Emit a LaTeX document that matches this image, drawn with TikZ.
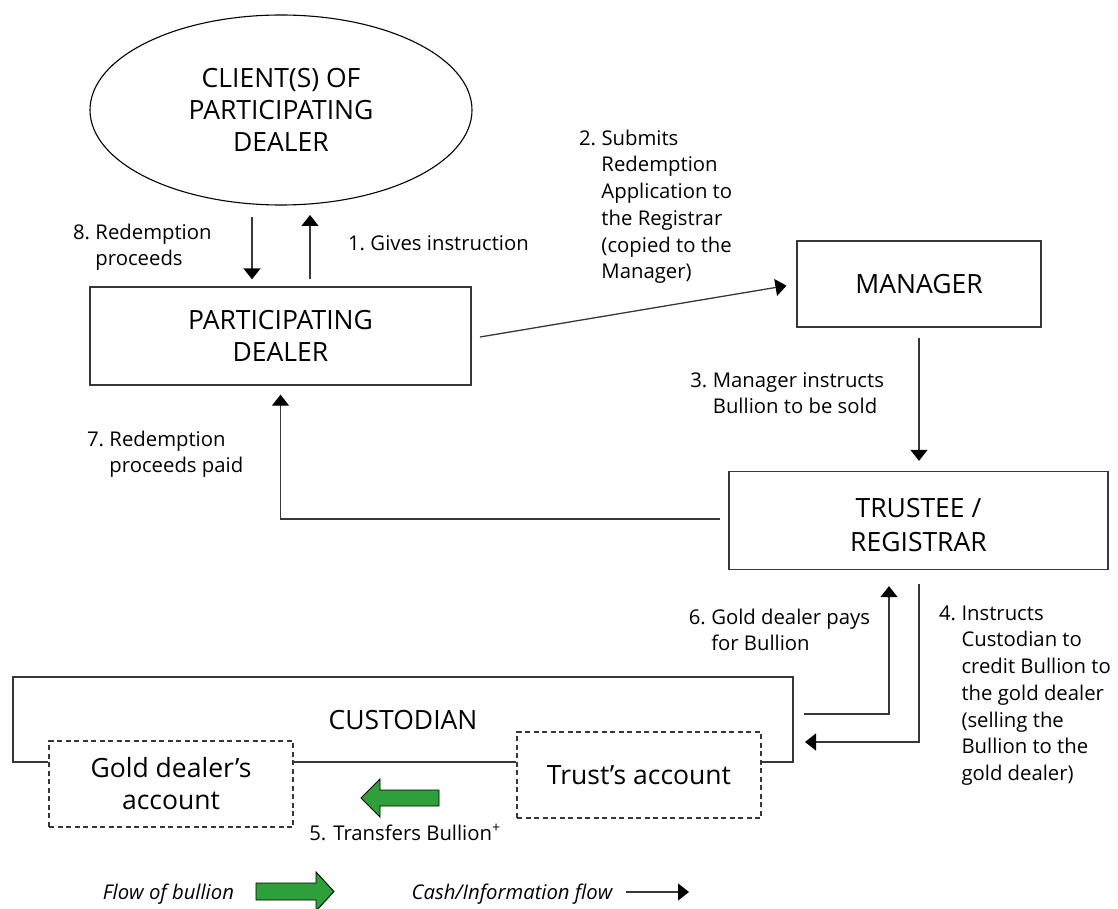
\documentclass[tikz,border=0pt]{standalone}
\usepackage{fontspec}
\setmainfont{Open Sans}
\usetikzlibrary{arrows.meta,shapes.geometric}
\definecolor{bgreen}{RGB}{46,160,58}
\definecolor{linec}{RGB}{55,55,55}
\newcommand{\hl}{\hspace{0.27em}}
\begin{document}
\begin{tikzpicture}[x=1pt,y=-1pt,
  big/.style={font=\fontsize{26.5}{32}\selectfont, align=center, text=black},
  small/.style={font=\fontsize{20.3}{26.7}\selectfont, inner sep=0pt, outer sep=0pt, text=black},
  box/.style={draw=linec, line width=1.3pt, big, inner sep=0pt},
  dbox/.style={draw=linec, line width=1.1pt, dash pattern=on 5pt off 3.5pt, big, inner sep=0pt},
  conn/.style={draw=linec, line width=1.3pt},
  arr/.style={conn, -{Triangle[width=17pt,length=11pt,color=black]}},
  garrow/.style={fill=bgreen, draw=black, line width=0.9pt},
]
\useasboundingbox (0,0) rectangle (1118,909);

% main nodes
\node[ellipse, draw=black, line width=1.1pt, minimum width=382pt, minimum height=190pt, inner sep=0pt, big] (client) at (281,110) {CLIENT(S) OF\\PARTICIPATING\\DEALER};
\node[box, minimum width=381pt, minimum height=98pt] (pd) at (280.5,336) {PARTICIPATING\\DEALER};
\node[box, minimum width=244pt, minimum height=86pt] (mgr) at (919,284) {MANAGER};
\node[box, minimum width=379pt, minimum height=98pt] (tr) at (918.5,520.5) {};
\node[big, font=\fontsize{26.5}{33.5}\selectfont] (trt) at (918.5,525) {TRUSTEE /\\REGISTRAR};
\node[big] (cust) at (403,720) {CUSTODIAN};
\node[dbox, minimum width=244pt, minimum height=86pt] (gd) at (171,784) {Gold dealer’s\\account};
\node[dbox, minimum width=244pt, minimum height=86pt] (ta) at (639,775) {Trust’s account};

% custodian outline
\coordinate (cbl) at (13,762);
\coordinate (ctl) at (13,677);
\coordinate (ctr) at (793,677);
\coordinate (cbr) at (793,762);
\draw[conn] (gd.west |- cbl) -- (cbl) -- (ctl) -- (ctr) -- (cbr) -- (ta.east |- cbr);
\draw[conn] (gd.east |- cbl) -- (ta.west |- cbl);

% connectors
\coordinate (a8) at (252,217);
\draw[arr, shorten >=7pt] (a8) -- (a8 |- pd.north);
\coordinate (a1) at (310,215);
\draw[arr, shorten <=7pt] (a1 |- pd.north) -- (a1);
\coordinate (a2) at (480,337);
\draw[arr, shorten >=10pt] (a2) -- (mgr.west);
\draw[arr, shorten <=10pt, shorten >=10pt] (mgr.south) -- (mgr.south |- tr.north);
\draw[arr, shorten <=8pt, shorten >=9pt] ([yshift=1.5pt]tr.west) -| (pd.south);
\coordinate (c6) at (804,714);
\coordinate (k6) at (889,714);
\draw[arr, shorten >=16pt] (c6) -- (k6) -- (k6 |- tr.south);
\coordinate (c4) at (805,742);
\coordinate (k4) at (919,742);
\draw[arr, shorten <=14pt] (k4 |- tr.south) -- (k4) -- (c4);

% bullion transfer arrow
\draw[garrow] (439,790) -- (380,790) -- (380,779) -- (361,798) -- (380,817) -- (380,806) -- (439,806) -- cycle;

% labels
\node[small, anchor=north west] (l1) at (348,231.6) {\begin{tabular}{@{}l@{\hl}l@{}}1. & Gives instruction\end{tabular}};
\node[small, anchor=north west] (l2) at (579,126.6) {\begin{tabular}{@{}l@{\hl}l@{}}2. & Submits\\ & Redemption\\ & Application to\\ & the Registrar\\ & (copied to the\\ & Manager)\end{tabular}};
\node[small, anchor=north west] (l8) at (73,220.6) {\begin{tabular}{@{}l@{\hl}l@{}}8. & Redemption\\ & proceeds\end{tabular}};
\node[small, anchor=north west] (l7) at (87,427.6) {\begin{tabular}{@{}l@{\hl}l@{}}7. & Redemption\\ & proceeds paid\end{tabular}};
\node[small, anchor=north east] (l3) at (884,368.6) {\begin{tabular}{@{}l@{\hl}l@{}}3. & Manager instructs\\ & Bullion to be sold\end{tabular}};
\node[small, anchor=north east] (l6) at (870,605.6) {\begin{tabular}{@{}l@{\hl}l@{}}6. & Gold dealer pays\\ & for Bullion\end{tabular}};
\node[small, anchor=north west] (l4) at (939,601.6) {\begin{tabular}{@{}l@{\hl}l@{}}4. & Instructs\\ & Custodian to\\ & credit Bullion to\\ & the gold dealer\\ & (selling the\\ & Bullion to the\\ & gold dealer)\end{tabular}};
\node[small, anchor=base] (l5) at (405,840.3) {5. Transfers Bullion\textsuperscript{+}};

% legend
\node[small, anchor=base, font=\fontsize{20.3}{26.7}\selectfont\itshape] (lg1) at (168.5,899) {Flow of bullion};
\draw[garrow] (256,883) -- (316,883) -- (316,872) -- (334,891.5) -- (316,911) -- (316,900) -- (256,900) -- cycle;
\node[small, anchor=base, font=\fontsize{20.3}{26.7}\selectfont\itshape] (lg2) at (512,899) {Cash/Information flow};
\coordinate (lgs) at (626,892);
\coordinate (lge) at (689,892);
\draw[arr] (lgs) -- (lge);
\end{tikzpicture}
\end{document}
